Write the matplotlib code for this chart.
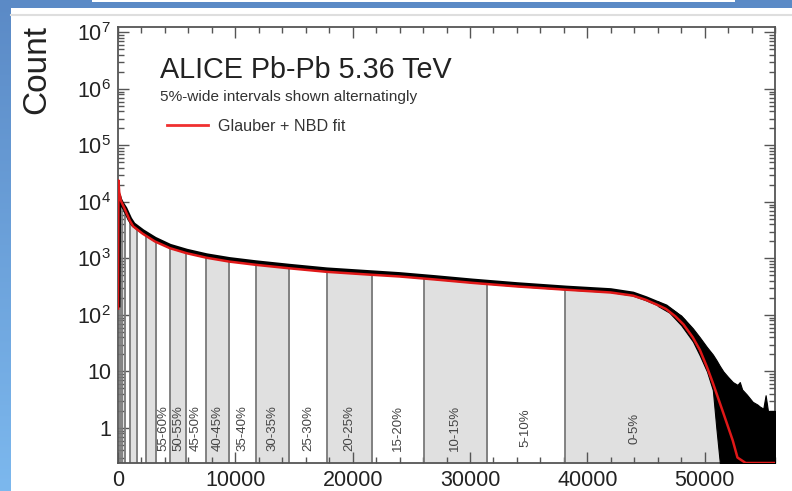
"""Pb-Pb multiplicity distribution with centrality classes and Glauber + NBD fit."""
import numpy as np
import matplotlib
matplotlib.use("Agg")
import matplotlib.pyplot as plt
from matplotlib.patches import Rectangle
from matplotlib.ticker import FixedLocator, FixedFormatter, LogLocator, MultipleLocator, NullFormatter

plt.rcParams["font.family"] = ["Liberation Sans", "DejaVu Sans"]
plt.rcParams["mathtext.fontset"] = "custom"
plt.rcParams["mathtext.rm"] = "Liberation Sans"
plt.rcParams["mathtext.it"] = "Liberation Sans:italic"

XMAX = 56000
YMIN, YMAX = 0.24, 1.25e7

# measured multiplicity distribution
HIST_X = [0, 50, 150, 300, 600, 1000, 1300, 2100, 3150, 4430, 5850, 7550, 9500,
          11800, 14600, 17800, 21600, 24000, 27000, 30200, 34000, 38200, 42000,
          43900, 45000, 46000, 46700, 47500, 48200, 49000, 49600, 50400, 51000, 51400]
HIST_Y = [150, 13000, 11000, 9500, 7600, 5000, 4000, 3000, 2200, 1650, 1350, 1120, 960,
          840, 730, 630, 560, 520, 460, 400, 345, 300, 270,
          235, 195, 160, 140, 105, 78, 45, 29, 14, 8, 5]

# high-multiplicity tail: bin-to-bin spread (upper / lower counts)
TAIL_X = [46000, 47000, 48000, 49000, 49600, 50200, 50700, 51000, 51300, 51600, 52000,
          52400, 52800, 53000, 53200, 53600, 54100, 54500, 54700, 55000, 55200, 55400,
          55600, 56000]
TAIL_HI = [175, 135, 98, 58, 40, 27, 20, 16, 12.5, 10, 8,
           6.5, 5.8, 6.5, 4.8, 3.9, 2.9, 2.6, 2.4, 2.2, 3.8, 2.0,
           2.0, 2.0]
TAIL_LO = [145, 110, 66, 34, 19, 10, 4.7, 1.0, 0, 0, 0,
           0, 0, 0, 0, 0, 0, 0, 0, 0, 0, 0,
           0, 0]

# Glauber + NBD fit
FIT_X = [0, 40, 100, 250, 600, 1000, 1300, 2100, 3150, 4430, 5850, 7550, 9500, 11800,
         14600, 17800, 21600, 24000, 27000, 30200, 34000, 38200, 42000, 43900, 45000,
         46000, 46700, 47500, 48200, 49000, 49600, 50200, 50700, 51500, 52400, 52800,
         53500, 56000]
FIT_Y = [130, 24000, 15000, 10500, 7300, 4700, 3700, 2750, 2000, 1520, 1240, 1030, 880, 770,
         670, 580, 515, 480, 425, 370, 320, 280, 250, 220, 185,
         150, 128, 95, 68, 40, 24, 12, 6.3, 2.1, 0.6, 0.3,
         0.08, 1e-4]

# centrality class edges in multiplicity, 0% ... 90%
CLASS_EDGES = [50000, 38070, 31430, 26060, 21630, 17850, 14570, 11800, 9450, 7500,
               5790, 4430, 3250, 2400, 1600, 1000, 600, 330, 160]
CLASS_LABELS = ["0-5%", "5-10%", "10-15%", "15-20%", "20-25%", "25-30%", "30-35%",
                "35-40%", "40-45%", "45-50%", "50-55%", "55-60%"]

W, H = 792, 491
fig = plt.figure(figsize=(W / 100, H / 100), dpi=100)

# slide background
bg = fig.add_axes([0, 0, 1, 1], zorder=-10)
grad = np.linspace(0, 1, 256)[:, None, None]
top = np.array([0x5b, 0x8a, 0xc6]) / 255
bot = np.array([0x7c, 0xb8, 0xee]) / 255
bg.imshow(top + grad * (bot - top), aspect="auto", extent=[0, 1, 0, 1])
bg.add_patch(Rectangle((11 / W, 0), 1, 1 - 8 / H, color="white", lw=0))
bg.add_patch(Rectangle((92 / W, 1 - 1.5 / H), (735 - 92) / W, 1.5 / H, color="white", lw=0))
bg.plot([11 / W, 1], [1 - 15 / H] * 2, color="#dedede", lw=1.5)
bg.set_xlim(0, 1)
bg.set_ylim(0, 1)
bg.axis("off")

ax = fig.add_axes([118 / W, 1 - 463 / H, (775 - 118) / W, (463 - 27) / H])
ax.set_yscale("log")
ax.set_xlim(0, XMAX)
ax.set_ylim(YMIN, YMAX)

# area under the histogram, used to clip shading and class edges
under = ax.fill_between(HIST_X, YMIN, HIST_Y, facecolor="none", edgecolor="none")
under_path = under.get_paths()[0]

for i in range(0, len(CLASS_EDGES) - 1, 2):
    lo = CLASS_EDGES[i + 1]
    hi = XMAX if i == 0 else CLASS_EDGES[i]
    shade = ax.fill_between(HIST_X, YMIN, HIST_Y, color="#e0e0e0", lw=0, zorder=1)
    shade.set_clip_path(Rectangle((lo, YMIN), hi - lo, YMAX - YMIN, transform=ax.transData))

edges = ax.vlines(CLASS_EDGES[1:], YMIN, YMAX, color="#7a7a7a", lw=1.3, zorder=2)
edges.set_clip_path(under_path, ax.transData)

for i, lab in enumerate(CLASS_LABELS):
    xc = 0.5 * (CLASS_EDGES[i] + CLASS_EDGES[i + 1])
    ax.text(xc, 1.0, lab, rotation=90, ha="center", va="center", fontsize=9.5,
            color="#444444", zorder=3)

ax.plot(HIST_X, HIST_Y, color="black", lw=3.5, zorder=4)
ax.fill_between(TAIL_X, np.clip(TAIL_LO, YMIN, None), TAIL_HI,
                color="black", lw=0.8, zorder=4)
ax.plot(FIT_X, np.clip(FIT_Y, YMIN, None), color="#e01818", lw=1.8, zorder=5)

# axes styling
ax.xaxis.set_major_locator(MultipleLocator(10000))
ax.xaxis.set_minor_locator(MultipleLocator(2000))
decades = [1, 10, 1e2, 1e3, 1e4, 1e5, 1e6, 1e7]
ax.yaxis.set_major_locator(FixedLocator(decades))
ax.yaxis.set_major_formatter(FixedFormatter(
    ["1", "10"] + [r"$\mathregular{10^{%d}}$" % k for k in range(2, 8)]))
ax.yaxis.set_minor_locator(LogLocator(base=10, subs=np.arange(2, 10), numticks=20))
ax.yaxis.set_minor_formatter(NullFormatter())
ax.tick_params(which="both", direction="in", top=True, right=True, color="#555555",
               labelsize=15.5, labelcolor="#222222", width=1.0)
ax.tick_params(which="major", length=8, pad=5)
ax.tick_params(which="minor", length=4)
for s in ax.spines.values():
    s.set_color("#555555")
    s.set_linewidth(1.3)

fig.text(37 / W, 1 - 69 / H, "Count", rotation=90, ha="center", va="center",
         fontsize=24, color="#222222")
fig.text(160 / W, 1 - 77.5 / H, "ALICE Pb-Pb 5.36 TeV", ha="left", va="baseline",
         fontsize=20.7, color="#222222")
fig.text(160 / W, 1 - 101 / H, "5%-wide intervals shown alternatingly", ha="left",
         va="baseline", fontsize=11.1, color="#333333")
fig.add_artist(plt.Line2D([167 / W, 208 / W], [1 - 125 / H] * 2, color="#f03030", lw=2))
fig.text(218 / W, 1 - 131 / H, "Glauber + NBD fit", ha="left", va="baseline",
         fontsize=11.6, color="#333333")

fig.savefig("out.png", dpi=100)
